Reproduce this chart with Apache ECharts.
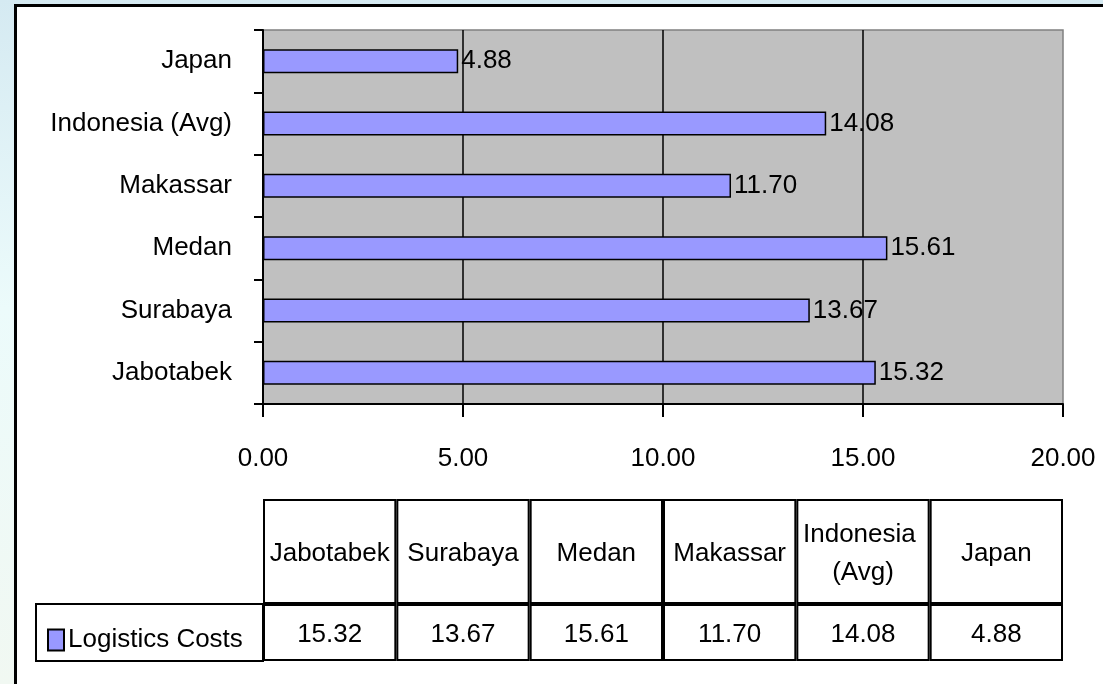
<!DOCTYPE html>
<html>
<head>
<meta charset="utf-8">
<script src="https://cdn.jsdelivr.net/npm/echarts@6/dist/echarts.min.js"></script>
<style>
  html, body { margin: 0; padding: 0; }
  body { width: 1103px; height: 684px; background: linear-gradient(180deg, #D5EAF2 0%, #ECFBFB 45%, #F1F8F2 100%); overflow: hidden; }
  #chart { position: absolute; left: 0; top: 0; width: 1103px; height: 684px; }
</style>
</head>
<body>
<div id="chart"></div>
<script>
const categories = ['Jabotabek', 'Surabaya', 'Medan', 'Makassar', 'Indonesia (Avg)', 'Japan'];
const costs = [15.32, 13.67, 15.61, 11.70, 14.08, 4.88];
const seriesName = 'Logistics Costs';
const xMin = 0, xMax = 20, xStep = 5;

const FONT = '"Liberation Sans Narrow", "Arial Narrow", "Liberation Sans", Arial, sans-serif';
const FS = 26;

const chart = echarts.init(document.getElementById('chart'), null, { renderer: 'canvas' });

const option = {
  animation: false,
  backgroundColor: 'transparent',
  textStyle: { fontFamily: FONT },
  graphic: [{
    type: 'rect', z: -10, silent: true,
    shape: { x: 15.5, y: 5.5, width: 1200, height: 800 },
    style: { fill: '#fff', stroke: '#000', lineWidth: 3 }
  }],
  legend: {
    data: [seriesName],
    left: 42, top: 622,
    icon: 'rect', itemWidth: 16, itemHeight: 21, itemGap: 6,
    textStyle: { fontSize: FS, color: '#000', fontFamily: FONT, padding: [0, 0, 0, -1] },
    selectedMode: false
  },
  grid: [
    { left: 263, top: 30, width: 800, height: 374, show: true, backgroundColor: '#C0C0C0', borderColor: '#808080', borderWidth: 1.5 },
    { left: 263, top: 499, width: 800, height: 105 },
    { left: 263, top: 604, width: 800, height: 57 },
    { left: 36, top: 604, width: 227, height: 57, show: true, backgroundColor: '#fff', borderColor: '#000', borderWidth: 2 }
  ],
  xAxis: [
    {
      gridIndex: 0, type: 'value', min: xMin, max: xMax, interval: xStep,
      axisLine: { show: true, lineStyle: { color: '#000', width: 2 } },
      axisTick: { show: true, length: 13, lineStyle: { color: '#000', width: 2 } },
      splitLine: { show: true, showMaxLine: false, lineStyle: { color: '#000', width: 1.5 } },
      axisLabel: { formatter: v => v.toFixed(2), fontSize: FS, color: '#000', margin: 42, fontFamily: FONT }
    },
    { gridIndex: 1, type: 'category', data: categories, show: false },
    { gridIndex: 2, type: 'category', data: categories, show: false },
    { gridIndex: 3, type: 'value', show: false }
  ],
  yAxis: [
    {
      gridIndex: 0, type: 'category', data: categories,
      axisLine: { show: true, lineStyle: { color: '#000', width: 2 } },
      axisTick: { show: true, length: 9, lineStyle: { color: '#000', width: 2 } },
      axisLabel: { fontSize: FS, color: '#000', margin: 31, fontFamily: FONT }
    },
    { gridIndex: 1, type: 'value', min: 0, max: 1, show: false },
    { gridIndex: 2, type: 'value', min: 0, max: 1, show: false },
    { gridIndex: 3, type: 'value', show: false }
  ],
  series: [
    {
      name: seriesName, type: 'bar', xAxisIndex: 0, yAxisIndex: 0,
      data: costs, barWidth: 24,
      itemStyle: { color: '#9999FF', borderColor: '#000', borderWidth: 1.5 },
      label: { show: true, position: 'right', distance: 3, formatter: p => p.value.toFixed(2), fontSize: FS, color: '#000', fontFamily: FONT }
    },
    {
      name: 'header', type: 'bar', xAxisIndex: 1, yAxisIndex: 1, silent: true,
      data: categories.map(() => 1), barWidth: '100%',
      itemStyle: { color: '#fff', borderColor: '#000', borderWidth: 2 },
      label: { show: true, position: 'inside', formatter: p => p.name, fontSize: FS, lineHeight: 38, color: '#000', fontFamily: FONT, width: 126, overflow: 'break', offset: [0, 2] }
    },
    {
      name: 'values', type: 'bar', xAxisIndex: 2, yAxisIndex: 2, silent: true,
      data: categories.map(() => 1), barWidth: '100%',
      itemStyle: { color: '#fff', borderColor: '#000', borderWidth: 2 },
      label: { show: true, position: 'inside', formatter: p => costs[p.dataIndex].toFixed(2), fontSize: FS, color: '#000', fontFamily: FONT, offset: [0, 2] }
    }
  ]
};
chart.setOption(option);
</script>
</body>
</html>
